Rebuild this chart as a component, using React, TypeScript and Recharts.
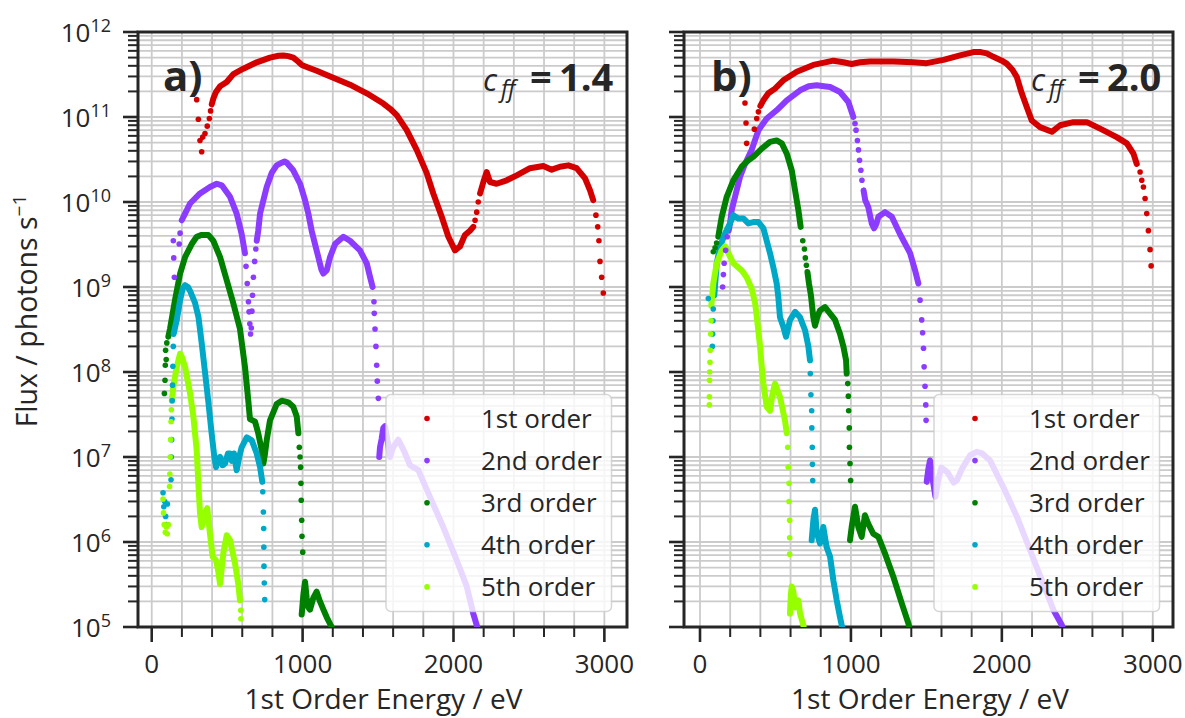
import React from 'react';
import { ComposedChart, Line, Scatter, XAxis, YAxis, CartesianGrid, ReferenceArea } from 'recharts';

type Pt = [number, number];
type Order = { lines: Pt[][]; dots: Pt[] };

// ---------- styling constants ----------
const FONT = '"Open Sans", "DejaVu Sans", sans-serif';
const INK = '#262626';
const GRID = '#cbcbcb';

// ---------- legend / series ----------
const ORDER_NAMES = ['1st order', '2nd order', '3rd order', '4th order', '5th order'];
const ORDER_COLORS = ['#d40000', '#8c3cff', '#008000', '#00a8c8', '#96ff00'];

// ---------- axes ----------
const X_TICKS = [0, 200, 400, 600, 800, 1000, 1200, 1400, 1600, 1800, 2000, 2200, 2400, 2600, 2800, 3000];
const X_LABELED = [0, 1000, 2000, 3000];
const Y_DECADES = [1e5, 1e6, 1e7, 1e8, 1e9, 1e10, 1e11, 1e12];
const Y_EXPONENTS = ['5', '6', '7', '8', '9', '10', '11', '12'];
const Y_MINOR_STEPS = [2, 3, 4, 5, 6, 7, 8, 9];
const Y_TICKS = [
  ...Y_DECADES,
  ...Y_DECADES.slice(0, -1).flatMap((d) => Y_MINOR_STEPS.map((m) => m * d)),
].sort((a, b) => a - b);
const Y_DOMAIN: [number, number] = [1e5, 1e12];
const X_DOMAIN_A: [number, number] = [-91, 3150];
const X_DOMAIN_B: [number, number] = [-106, 3134];

const PANEL_TAGS = ['a)', 'b)'];
const CFF_VALUES = ['1.4', '2.0'];

// ---------- panel a: c_ff = 1.4 ----------
const A1: Order = {
  lines: [
    [[398, 1.41e11], [408, 1.64e11], [426, 1.97e11], [453, 2.3e11], [497, 2.58e11], [541, 3.2e11], [607, 3.7e11], [696, 4.4e11], [784, 5.0e11], [840, 5.25e11], [872, 5.3e11], [905, 5.2e11], [938, 5.0e11], [970, 4.5e11], [994, 4.1e11], [1040, 3.8e11], [1093, 3.5e11], [1203, 2.9e11], [1314, 2.4e11], [1425, 1.9e11], [1535, 1.44e11], [1580, 1.25e11], [1624, 1.05e11], [1690, 7.0e10], [1756, 4.1e10], [1822, 2.2e10], [1866, 1.26e10], [1922, 6.7e9], [1966, 3.9e9], [2010, 2.7e9], [2043, 3.0e9], [2076, 4.1e9], [2109, 4.6e9], [2131, 5.1e9]],
    [[2176, 1.26e10], [2198, 1.72e10], [2220, 2.25e10], [2242, 1.72e10], [2286, 1.64e10], [2353, 1.8e10], [2419, 2.06e10], [2507, 2.5e10], [2595, 2.65e10], [2651, 2.4e10], [2706, 2.6e10], [2761, 2.7e10], [2816, 2.5e10], [2872, 1.9e10], [2905, 1.37e10], [2926, 1.05e10]],
  ],
  dots: [[298, 1.6e11], [309, 9.4e10], [320, 5.3e10], [331, 3.9e10], [338, 5.8e10], [353, 6.4e10], [368, 7.8e10], [382, 9.6e10], [390, 1.18e11], [2143, 6.1e9], [2154, 7.6e9], [2164, 1.0e10], [2944, 7.0e9], [2956, 5.1e9], [2964, 3.5e9], [2971, 2.0e9], [2982, 1.3e9], [2993, 8.5e8]],
};
const A2: Order = {
  lines: [
    [[199, 6.1e9], [221, 7.3e9], [254, 9.6e9], [320, 1.26e10], [386, 1.5e10], [431, 1.64e10], [464, 1.57e10], [519, 1.15e10], [563, 7.3e9], [596, 4.2e9], [618, 2.5e9]],
    [[696, 3.5e9], [706, 4.6e9], [718, 7.3e9], [740, 1.05e10], [762, 1.5e10], [795, 2.2e10], [828, 2.7e10], [862, 2.9e10], [880, 3.0e10], [895, 2.9e10], [938, 2.36e10], [983, 1.64e10], [1016, 1.05e10], [1038, 7.3e9], [1060, 4.6e9], [1082, 3.2e9], [1104, 2.25e9], [1125, 1.6e9], [1137, 1.44e9], [1160, 1.57e9], [1182, 2.25e9], [1215, 3.2e9], [1270, 3.9e9], [1314, 3.5e9], [1380, 2.7e9], [1425, 1.9e9], [1447, 1.31e9], [1464, 1.0e9]],
    [[1508, 1.0e7], [1513, 1.3e7], [1524, 1.64e7], [1535, 2.2e7], [1546, 2.3e7], [1562, 1.6e7], [1579, 1.0e7], [1600, 1.3e7], [1634, 1.6e7], [1670, 1.2e7], [1712, 8e6], [1767, 7e6], [1844, 3.4e6], [1932, 1.5e6], [2021, 6.1e5], [2088, 3e5], [2131, 1.44e5], [2154, 1.05e5], [2175, 8e4]],
  ],
  dots: [[143, 3.5e9], [146, 2.2e9], [150, 1.3e9], [182, 3.2e9], [188, 4.3e9], [625, 1.75e9], [633, 1.1e9], [641, 6.7e8], [645, 5.1e8], [650, 3.7e8], [655, 2.8e8], [660, 3.3e8], [664, 5.2e8], [668, 8e8], [674, 1.3e9], [682, 2.0e9], [690, 2.8e9], [1473, 6.7e8], [1475, 4.9e8], [1480, 3.2e8], [1486, 2.0e8], [1491, 1.2e8], [1495, 7.8e7], [1502, 4.9e7]],
};
const A3: Order = {
  lines: [
    [[110, 2.6e8], [121, 3.2e8], [154, 7e8], [188, 1.44e9], [221, 2.25e9], [265, 3.2e9], [298, 3.9e9], [331, 4.1e9], [375, 4.1e9], [408, 3.5e9], [453, 2.25e9], [497, 1.2e9], [541, 6.4e8], [585, 3.2e8], [618, 1.15e8], [640, 4.6e7], [651, 2.8e7], [668, 2.7e7], [685, 2.6e7], [706, 1.9e7], [729, 1.2e7], [740, 8.4e6], [751, 1.1e7], [762, 1.57e7], [784, 2.7e7], [828, 4.2e7], [862, 4.6e7], [905, 4.4e7], [938, 3.9e7], [961, 3.0e7], [972, 1.9e7]],
    [[994, 1.4e5], [1005, 2.4e5], [1016, 3.4e5], [1027, 2.2e5], [1038, 1.7e5], [1049, 1.6e5], [1071, 2.2e5], [1093, 2.6e5], [1115, 2.0e5], [1138, 1.6e5], [1160, 1.3e5], [1193, 1.0e5], [1215, 7.5e4]],
  ],
  dots: [[84, 5.6e7], [88, 8e7], [90, 1.2e8], [92, 1.8e8], [96, 1.4e8], [100, 2.2e8], [978, 1.3e7], [983, 1.0e7], [987, 7.6e6], [989, 4.9e6], [991, 3.1e6], [994, 1.8e6], [996, 1.17e6], [1001, 7.6e5]],
};
const A4: Order = {
  lines: [
    [[145, 2.8e8], [166, 4.1e8], [188, 7e8], [205, 9.5e8], [221, 1.05e9], [240, 1.0e9], [254, 9.0e8], [287, 6.5e8], [310, 4.4e8], [331, 2.2e8], [353, 1.0e8], [375, 4.5e7], [397, 1.9e7], [415, 1.0e7], [426, 7.6e6], [440, 9.5e6], [453, 1.0e7], [470, 8.0e6], [486, 8.4e6], [505, 1.1e7], [519, 1.1e7], [530, 9e6], [545, 1.1e7], [563, 7e6], [580, 1.0e7], [596, 1.3e7], [630, 1.7e7], [663, 1.57e7], [696, 1.1e7], [718, 7.6e6], [733, 5.1e6]],
  ],
  dots: [[75, 3.8e6], [80, 2.6e6], [86, 3.0e6], [92, 2.0e6], [98, 1.6e6], [104, 2.8e6], [128, 5.4e6], [130, 1.0e7], [132, 1.6e7], [134, 2.8e7], [136, 4.6e7], [138, 7e7], [140, 1.17e8], [143, 2.0e8], [736, 3.9e6], [740, 2.25e6], [742, 1.44e6], [743, 8.7e5], [744, 5.2e5], [746, 3.3e5], [749, 2.1e5]],
};
const A5: Order = {
  lines: [
    [[133, 4.6e7], [143, 6.7e7], [166, 1.15e8], [188, 1.64e8], [200, 1.5e8], [221, 1.15e8], [254, 5.6e7], [276, 3e7], [298, 1.2e7], [309, 4.9e6], [320, 2.2e6], [331, 1.5e6], [342, 1.8e6], [353, 2.2e6], [368, 2.5e6], [386, 1.25e6], [404, 6.7e5], [426, 6.1e5], [441, 4.5e5], [453, 3.2e5], [474, 7.3e5], [497, 1.2e6], [519, 1.05e6], [552, 5.6e5], [574, 3.2e5], [585, 2.06e5]],
  ],
  dots: [[75, 3.2e6], [78, 2.2e6], [83, 1.6e6], [90, 1.3e6], [97, 1.5e6], [103, 1.25e6], [110, 1.6e6], [118, 4.5e6], [120, 6.3e6], [122, 1e7], [125, 1.6e7], [128, 2.6e7], [130, 3.6e7], [590, 1.57e5], [591, 1.25e5]],
};

// ---------- panel b: c_ff = 2.0 ----------
const B1: Order = {
  lines: [
    [[400, 1.35e11], [420, 1.57e11], [453, 1.9e11], [497, 2.16e11], [552, 2.7e11], [641, 3.4e11], [751, 4.1e11], [884, 4.6e11], [950, 4.4e11], [1005, 4.2e11], [1060, 4.4e11], [1127, 4.5e11], [1281, 4.5e11], [1413, 4.4e11], [1502, 4.3e11], [1613, 4.7e11], [1723, 5.3e11], [1812, 5.8e11], [1860, 5.8e11], [1900, 5.6e11], [1944, 5.1e11], [2000, 4.6e11], [2032, 4.25e11], [2070, 3.6e11], [2099, 2.96e11], [2132, 1.9e11], [2165, 1.31e11], [2198, 9.1e10], [2253, 7.6e10], [2331, 6.7e10], [2386, 8e10], [2474, 8.7e10], [2563, 8.7e10], [2651, 7.3e10], [2761, 5.8e10], [2828, 4.9e10], [2872, 3.7e10], [2894, 2.8e10]],
  ],
  dots: [[298, 1.46e11], [305, 8.5e10], [309, 4.9e10], [360, 7.2e10], [376, 9.6e10], [387, 1.15e11], [2916, 2.25e10], [2927, 1.8e10], [2938, 1.5e10], [2949, 1.1e10], [2960, 7.3e9], [2971, 4.6e9], [2982, 2.75e9], [2989, 1.77e9]],
};
const B2: Order = {
  lines: [
    [[190, 4.6e9], [199, 5.6e9], [210, 8e9], [232, 1.15e10], [265, 1.97e10], [298, 2.8e10], [342, 4.1e10], [387, 7e10], [442, 9.6e10], [508, 1.2e11], [575, 1.57e11], [663, 2.06e11], [720, 2.3e11], [773, 2.36e11], [820, 2.3e11], [862, 2.25e11], [928, 1.97e11], [983, 1.5e11], [1016, 1.0e11]],
    [[1084, 1.37e10], [1095, 1.05e10], [1115, 8.7e9], [1138, 5.6e9], [1153, 4.9e9], [1168, 5.5e9], [1182, 6.7e9], [1226, 7.6e9], [1271, 6.7e9], [1325, 4.2e9], [1392, 2.5e9], [1425, 1.57e9], [1447, 1.1e9]],
    [[1502, 5.1e6], [1513, 7.2e6], [1524, 9.1e6], [1545, 5e6], [1560, 3.4e6], [1580, 5.5e6], [1600, 7.5e6], [1640, 6.6e6], [1680, 5.0e6], [1701, 5.3e6], [1740, 7.5e6], [1790, 1.05e7], [1834, 1.15e7], [1870, 1.1e7], [1922, 9.1e6], [2010, 4.4e6], [2099, 2e6], [2187, 8e5], [2275, 3.2e5], [2343, 1.57e5], [2398, 1.05e5], [2415, 8e4]],
  ],
  dots: [[150, 1.0e9], [155, 1.4e9], [160, 1.9e9], [170, 2.7e9], [180, 3.9e9], [1027, 8.4e10], [1034, 7e10], [1043, 5.3e10], [1050, 4.1e10], [1057, 3.1e10], [1066, 2.36e10], [1073, 1.8e10], [1458, 7e8], [1469, 4.1e8], [1475, 2.9e8], [1481, 1.9e8], [1485, 1.15e8], [1491, 6.8e7], [1496, 4.1e7], [1498, 2.7e7]],
};
const B3: Order = {
  lines: [
    [[121, 3.9e9], [144, 6.7e9], [177, 1.15e10], [221, 1.8e10], [276, 2.6e10], [320, 3.1e10], [353, 3.4e10], [409, 4.25e10], [464, 5.1e10], [508, 5.3e10], [542, 4.9e10], [575, 3.7e10], [608, 2.36e10], [630, 1.37e10], [652, 8e9], [667, 5.1e9]],
    [[712, 1.5e9], [722, 1.1e9], [735, 8e8], [745, 5.5e8], [751, 4.4e8], [762, 3.5e8], [778, 4.5e8], [795, 5.3e8], [828, 5.8e8], [861, 4.9e8], [895, 4.1e8], [928, 2.8e8], [950, 2e8], [968, 1.37e8], [972, 9.6e7]],
    [[994, 1.05e6], [1005, 1.5e6], [1016, 2.0e6], [1027, 2.6e6], [1038, 2.0e6], [1049, 1.5e6], [1071, 1.15e6], [1093, 2.06e6], [1115, 1.64e6], [1148, 1.25e6], [1182, 1.15e6], [1226, 7.3e5], [1281, 3.9e5], [1337, 1.9e5], [1381, 1.1e5], [1400, 8e4]],
  ],
  dots: [[88, 2.6e9], [100, 2.9e9], [110, 3.3e9], [681, 3.5e9], [692, 2.8e9], [698, 2.2e9], [705, 1.8e9], [979, 7.3e7], [983, 5.2e7], [985, 3.5e7], [989, 2.2e7], [990, 1.3e7], [994, 8.4e6], [998, 5.3e6]],
};
const B4: Order = {
  lines: [
    [[95, 8e8], [111, 1.9e9], [133, 3e9], [166, 4.25e9], [199, 5.6e9], [221, 7e9], [254, 6.4e9], [287, 6.4e9], [320, 5.6e9], [353, 5.8e9], [387, 5.8e9], [420, 4.9e9], [442, 3.5e9], [464, 2.5e9], [486, 1.7e9], [508, 1.1e9], [519, 7.6e8], [530, 4.4e8], [552, 3.4e8], [570, 2.6e8], [597, 4.1e8], [630, 5.1e8], [663, 4.4e8], [696, 3.1e8], [718, 2e8], [729, 1.37e8]],
    [[740, 1.05e6], [751, 1.8e6], [762, 2.4e6], [773, 1.3e6], [795, 9.6e5], [806, 1.2e6], [817, 1.5e6], [839, 8.7e5], [862, 6.7e5], [884, 3.5e5], [906, 2.06e5], [928, 1.3e5], [939, 1.05e5], [950, 8e4]],
  ],
  dots: [[55, 7.3e8], [82, 2.0e8], [84, 2.8e8], [86, 4e8], [88, 5.5e8], [731, 9.6e7], [735, 5.4e7], [740, 3.5e7], [741, 2.2e7], [744, 1.3e7], [745, 8.2e6], [747, 5.3e6]],
};
const B5: Order = {
  lines: [
    [[75, 6e8], [88, 1.1e9], [111, 1.9e9], [144, 2.7e9], [166, 3.0e9], [188, 2.5e9], [221, 1.9e9], [276, 1.57e9], [309, 1.3e9], [342, 9.6e8], [365, 6.5e8], [376, 4.5e8], [387, 3e8], [398, 2e8], [409, 1.15e8], [420, 7.3e7], [442, 3.9e7], [464, 3.5e7], [480, 5.5e7], [497, 7.3e7], [530, 5.1e7], [563, 2.7e7], [575, 1.9e7]],
    [[596, 1.44e5], [602, 2.4e5], [608, 3e5], [619, 2.6e5], [630, 1.7e5], [641, 1.9e5], [652, 2.06e5], [663, 1.44e5], [685, 1.05e5], [695, 8e4]],
  ],
  dots: [[62, 4.1e7], [62, 5.1e7], [63, 8e7], [64, 1.0e8], [66, 1.3e8], [68, 1.8e8], [71, 2.8e8], [73, 4e8], [581, 1.3e7], [585, 7.6e6], [590, 4.9e6], [590, 3e6], [594, 1.8e6], [594, 1.12e6], [594, 7.2e5]],
};

const PANEL_A: Order[] = [A1, A2, A3, A4, A5];
const PANEL_B: Order[] = [B1, B2, B3, B4, B5];

const toRows = (pts: Pt[]) => pts.map(([e, f]) => ({ e, f }));

// ---------- axis ticks ----------
function YTick(props: any) {
  const { x, y, payload, showLabel } = props;
  const v = payload.value as number;
  const idx = Y_DECADES.findIndex((d) => Math.abs(d - v) / d < 1e-9);
  const major = idx >= 0;
  return (
    <g>
      <line x1={x - (major ? 15 : 10)} x2={x} y1={y} y2={y} stroke={INK} strokeWidth={major ? 2.6 : 2} />
      {major && showLabel ? (
        <text x={x - 27} y={y + 9.5} textAnchor="end" fill={INK} fontFamily={FONT} fontSize={26}>
          <tspan>10</tspan>
          <tspan dy={-10} fontSize={18}>{Y_EXPONENTS[idx]}</tspan>
        </text>
      ) : null}
    </g>
  );
}

function XTick(props: any) {
  const { x, y, payload } = props;
  const v = payload.value as number;
  const major = X_LABELED.includes(v);
  return (
    <g>
      <line x1={x} x2={x} y1={y} y2={y + (major ? 15 : 10)} stroke={INK} strokeWidth={major ? 2.6 : 2} />
      {major ? (
        <text x={x} y={y + 46} textAnchor="middle" fill={INK} fontFamily={FONT} fontSize={26}>
          {String(v)}
        </text>
      ) : null}
    </g>
  );
}

const dotShape = (color: string) => (p: any) => <circle cx={p.cx} cy={p.cy} r={2.8} fill={color} />;

type PanelProps = {
  width: number;
  yAxisWidth: number;
  marginRight: number;
  domain: [number, number];
  orders: Order[];
  showYLabels: boolean;
};

function Panel({ width, yAxisWidth, marginRight, domain, orders, showYLabels }: PanelProps) {
  return (
    <ComposedChart width={width} height={718} margin={{ top: 32, right: marginRight, bottom: 0, left: 0 }}>
      <CartesianGrid stroke={GRID} strokeWidth={1.8} />
      <XAxis
        type="number"
        dataKey="e"
        domain={domain}
        ticks={X_TICKS}
        interval={0}
        allowDataOverflow
        height={91}
        tickSize={0}
        tickMargin={0}
        tickLine={false}
        axisLine={false}
        tick={(p: any) => <XTick {...p} />}
      />
      <YAxis
        type="number"
        dataKey="f"
        scale="log"
        domain={Y_DOMAIN}
        ticks={Y_TICKS}
        interval={0}
        allowDataOverflow
        width={yAxisWidth}
        tickSize={0}
        tickMargin={0}
        tickLine={false}
        axisLine={false}
        tick={(p: any) => <YTick {...p} showLabel={showYLabels} />}
      />
      {orders.map((o, i) => (
        <React.Fragment key={`o${i}`}>
          {o.lines.map((seg, j) => (
            <Line
              key={`l${i}-${j}`}
              data={toRows(seg)}
              dataKey="f"
              type="linear"
              stroke={ORDER_COLORS[i]}
              strokeWidth={6}
              strokeLinecap="round"
              strokeLinejoin="round"
              dot={false}
              activeDot={false}
              isAnimationActive={false}
            />
          ))}
          <Scatter
            data={toRows(o.dots)}
            dataKey="f"
            fill={ORDER_COLORS[i]}
            shape={dotShape(ORDER_COLORS[i])}
            isAnimationActive={false}
          />
        </React.Fragment>
      ))}
      <ReferenceArea
        x1={domain[0]}
        x2={domain[1]}
        y1={Y_DOMAIN[0]}
        y2={Y_DOMAIN[1]}
        fill="none"
        fillOpacity={0}
        stroke={INK}
        strokeWidth={3}
        ifOverflow="visible"
      />
    </ComposedChart>
  );
}

function LegendBox({ x, y }: { x: number; y: number }) {
  return (
    <g>
      <rect x={x} y={y} width={225.5} height={217} rx={5} ry={5} fill="#ffffff" fillOpacity={0.8} stroke="#cccccc" strokeOpacity={0.8} strokeWidth={1.5} />
      {ORDER_NAMES.map((name, i) => (
        <g key={name}>
          <circle cx={x + 41} cy={y + 24 + i * 42.1} r={2.8} fill={ORDER_COLORS[i]} />
          <text x={x + 95} y={y + 33 + i * 42.1} fill={INK} fontFamily={FONT} fontSize={26}>
            {name}
          </text>
        </g>
      ))}
    </g>
  );
}

// c_ff = value, laid out piece by piece from its left edge
function CffLabel({ left, value }: { left: number; value: string }) {
  return (
    <text y={90.7} fill={INK} fontFamily={FONT}>
      <tspan x={left} fontStyle="italic" fontSize={31}>c</tspan>
      <tspan x={left + 18} dy={6} fontStyle="italic" fontSize={23}>ff</tspan>
      <tspan x={left + 47} dy={-6} fontSize={38} fontWeight="bold">=</tspan>
      <tspan x={left + 76} fontSize={38} fontWeight="bold">{value}</tspan>
    </text>
  );
}

export default function App() {
  return (
    <div style={{ position: 'absolute', left: 0, top: 0, width: 1185, height: 718, background: '#ffffff', overflow: 'hidden' }}>
      <div style={{ position: 'absolute', left: 0, top: 0 }}>
        <Panel width={640} yAxisWidth={138} marginRight={13} domain={X_DOMAIN_A} orders={PANEL_A} showYLabels />
      </div>
      <div style={{ position: 'absolute', left: 640, top: 0 }}>
        <Panel width={545} yAxisWidth={44} marginRight={12} domain={X_DOMAIN_B} orders={PANEL_B} showYLabels={false} />
      </div>
      <svg width={1185} height={718} style={{ position: 'absolute', left: 0, top: 0, pointerEvents: 'none' }}>
        <text x={37} y={311} transform="rotate(-90 37 311)" textAnchor="middle" fill={INK} fontFamily={FONT} fontSize={28.5}>
          <tspan>Flux / photons s</tspan>
          <tspan dy={-11} fontSize={19}>−1</tspan>
        </text>
        <text x={383.5} y={709} textAnchor="middle" fill={INK} fontFamily={FONT} fontSize={28}>1st Order Energy / eV</text>
        <text x={930} y={709} textAnchor="middle" fill={INK} fontFamily={FONT} fontSize={28}>1st Order Energy / eV</text>
        <text x={163} y={91} fill={INK} fontFamily={FONT} fontSize={42} fontWeight="bold">{PANEL_TAGS[0]}</text>
        <text x={711} y={91} fill={INK} fontFamily={FONT} fontSize={42} fontWeight="bold">{PANEL_TAGS[1]}</text>
        <CffLabel left={483} value={CFF_VALUES[0]} />
        <CffLabel left={1031} value={CFF_VALUES[1]} />
        <LegendBox x={386} y={394.5} />
        <LegendBox x={934} y={394.5} />
      </svg>
    </div>
  );
}
